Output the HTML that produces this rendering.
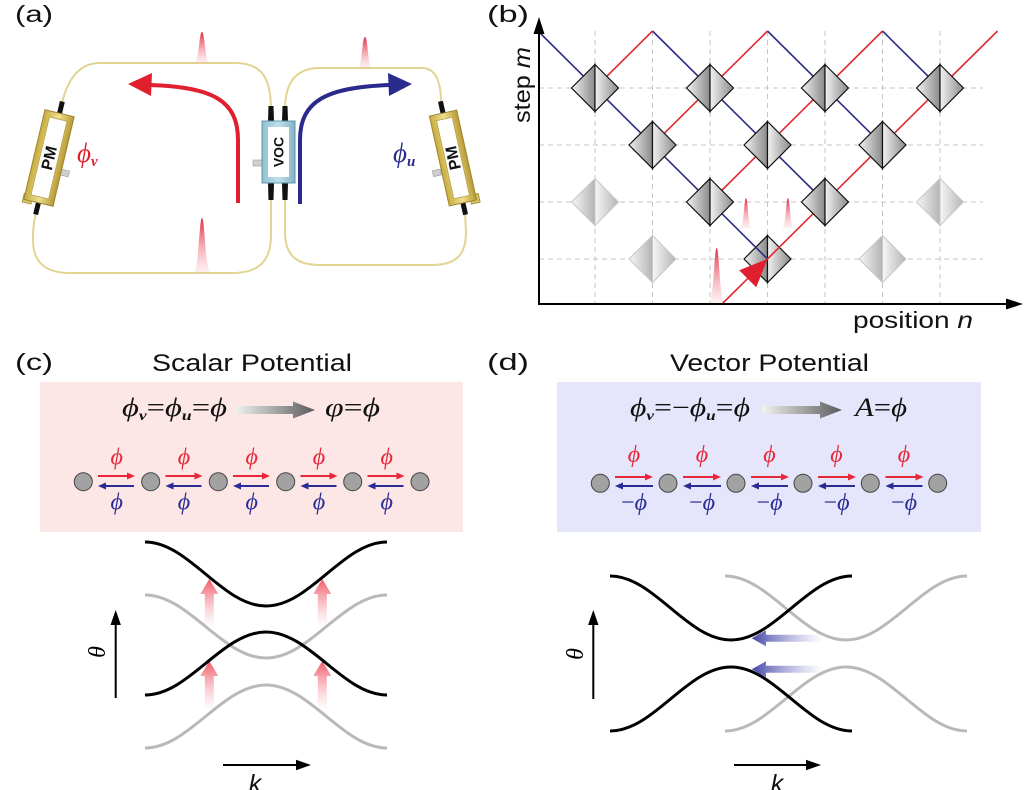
<!DOCTYPE html>
<html><head><meta charset="utf-8"><style>
html,body{margin:0;padding:0;background:#fff;}
svg{display:block;}
.lab{font-family:"Liberation Sans",Arial,sans-serif;fill:#111;}
.m{font-family:"Liberation Serif","DejaVu Serif",serif;font-style:italic;}
</style></head><body>
<svg width="1024" height="790" viewBox="0 0 1024 790" xmlns="http://www.w3.org/2000/svg">
<defs>
<linearGradient id="pg" x1="0" y1="0" x2="0" y2="1"><stop offset="0" stop-color="#e32c44"/><stop offset="1" stop-color="#f7a0aa" stop-opacity="0.15"/></linearGradient>
<linearGradient id="dg" x1="0" y1="0" x2="1" y2="0"><stop offset="0" stop-color="#f2f2f2"/><stop offset="1" stop-color="#8a8a8a"/></linearGradient>
<linearGradient id="fg" x1="0" y1="0" x2="1" y2="0"><stop offset="0" stop-color="#f7f7f7"/><stop offset="1" stop-color="#b4b4b4"/></linearGradient>
<linearGradient id="gold" x1="0" y1="0" x2="1" y2="0"><stop offset="0" stop-color="#c8ac40"/><stop offset="0.5" stop-color="#efe090"/><stop offset="1" stop-color="#b89a34"/></linearGradient>
<linearGradient id="voc" x1="0" y1="0" x2="1" y2="0"><stop offset="0" stop-color="#8fc0d0"/><stop offset="0.5" stop-color="#bfe0ea"/><stop offset="1" stop-color="#82b4c6"/></linearGradient>
<linearGradient id="ga" x1="0" y1="0" x2="1" y2="0"><stop offset="0" stop-color="#f2f2f2"/><stop offset="1" stop-color="#5a5a5a"/></linearGradient>
<linearGradient id="ru" x1="0" y1="0" x2="0" y2="1"><stop offset="0" stop-color="#ef5060" stop-opacity="0.95"/><stop offset="1" stop-color="#f7b0b8" stop-opacity="0"/></linearGradient>
<linearGradient id="bl" x1="0" y1="0" x2="1" y2="0"><stop offset="0" stop-color="#4545a8"/><stop offset="1" stop-color="#8a8ad0" stop-opacity="0"/></linearGradient>
</defs>

<!-- ========== (a) ========== -->
<text class="lab" x="15" y="22" font-size="23" textLength="38" lengthAdjust="spacingAndGlyphs">(a)</text>
<g fill="none" stroke="#e2d492" stroke-width="2">
<path d="M271,110 C271,78 262,63 235,63 L100,63 C80,63 68,78 62,103 L36,213 C33,226 33,232 33,240 C33,262 45,273 70,273 L232,273 C258,273 271,262 271,235 L271,198"/>
<path d="M285,110 C285,82 296,68 320,68 L422,68 C436,68 441,82 441,103 L465,213 L466,232 C466,255 456,265 432,265 L320,265 C296,265 285,255 285,232 L285,198"/>
</g>
<path d="M194,63 C199,63 199,32 202,32 C205,32 205,63 210,63 Z" fill="url(#pg)"/>
<path d="M193,273 C199,273 199,218 202,218 C205,218 205,273 211,273 Z" fill="url(#pg)"/>
<path d="M358,68 C362,68 362,37 365,37 C368,37 368,68 372,68 Z" fill="url(#pg)"/>
<g transform="translate(49,158) rotate(13.3)">
<rect x="-2.5" y="-58" width="5" height="14" fill="#111"/>
<rect x="-2.5" y="44" width="5" height="14" fill="#111"/>
<rect x="-16" y="40" width="9" height="9" fill="#d8c268" stroke="#a08a30" stroke-width="0.8"/>
<rect x="15" y="8" width="8" height="6" fill="#cfcfcf" stroke="#999" stroke-width="0.6"/>
<rect x="-15" y="-46" width="30" height="92" fill="url(#gold)" stroke="#9c8530" stroke-width="1"/>
<rect x="-9" y="-40" width="18" height="80" fill="#fff" stroke="#b9a44c" stroke-width="0.8"/>
<text transform="rotate(-90)" x="0" y="5.5" text-anchor="middle" class="lab" font-weight="bold" font-size="16">PM</text>
</g>
<g transform="translate(453,158) rotate(-12.5)">
<rect x="-2.5" y="-58" width="5" height="14" fill="#111"/>
<rect x="-2.5" y="44" width="5" height="14" fill="#111"/>
<rect x="8" y="40" width="9" height="9" fill="#d8c268" stroke="#a08a30" stroke-width="0.8"/>
<rect x="-23" y="8" width="8" height="6" fill="#cfcfcf" stroke="#999" stroke-width="0.6"/>
<rect x="-14" y="-46" width="28" height="92" fill="url(#gold)" stroke="#9c8530" stroke-width="1"/>
<rect x="-8" y="-40" width="16" height="80" fill="#fff" stroke="#b9a44c" stroke-width="0.8"/>
<text transform="rotate(-90)" x="0" y="5.5" text-anchor="middle" class="lab" font-weight="bold" font-size="16">PM</text>
</g>
<path d="M268.5,106 L273.5,106 L274,121 L268,121 Z M282.5,106 L287.5,106 L288,121 L282,121 Z" fill="#111"/>
<path d="M268,183 L274,183 L273.5,200 L268.5,200 Z M282,183 L288,183 L287.5,200 L282.5,200 Z" fill="#111"/>
<rect x="253" y="160" width="10" height="6" fill="#cfcfcf" stroke="#999" stroke-width="0.6"/>
<rect x="262" y="121" width="33" height="62" fill="url(#voc)" stroke="#5f95a8" stroke-width="1"/>
<rect x="268" y="127" width="21" height="50" fill="#fff"/>
<text transform="translate(283.5,152) rotate(-90)" x="0" y="0" text-anchor="middle" class="lab" font-weight="bold" font-size="14">VOC</text>
<path d="M238,203 L238,140 C238,100 212,87 150,85" fill="none" stroke="#e0202e" stroke-width="4"/>
<polygon points="128,84 152,73 151,96" fill="#e0202e"/>
<path d="M300,204 L300,140 C300,100 328,87 390,85" fill="none" stroke="#2a2a8c" stroke-width="4"/>
<polygon points="412,84 388,73 389,96" fill="#2a2a8c"/>
<text class="m" x="77" y="162" font-size="27" fill="#e0202e">ϕ<tspan font-size="15" font-weight="bold" dy="4">v</tspan></text>
<text class="m" x="393" y="162" font-size="27" fill="#2a2a8c">ϕ<tspan font-size="15" font-weight="bold" dy="4">u</tspan></text>

<!-- ========== (b) ========== -->
<text class="lab" x="487" y="22" font-size="23" textLength="42" lengthAdjust="spacingAndGlyphs">(b)</text>
<g stroke="#c4c4c4" stroke-width="1" stroke-dasharray="5,4">
<line x1="595" y1="31" x2="595" y2="304"/><line x1="652.5" y1="31" x2="652.5" y2="304"/>
<line x1="710" y1="31" x2="710" y2="304"/><line x1="767.5" y1="31" x2="767.5" y2="304"/>
<line x1="825" y1="31" x2="825" y2="304"/><line x1="882.5" y1="31" x2="882.5" y2="304"/>
<line x1="940" y1="31" x2="940" y2="304"/>
<line x1="539" y1="88" x2="983" y2="88"/><line x1="539" y1="145" x2="983" y2="145"/>
<line x1="539" y1="202" x2="983" y2="202"/><line x1="539" y1="259" x2="983" y2="259"/>
</g>
<g stroke="#c8c8c8" stroke-width="1">
<polygon points="571.5,202 595,178.5 595,225.5" fill="url(#fg)"/><polygon points="595,178.5 618.5,202 595,225.5" fill="url(#fg)"/>
<polygon points="916.5,202 940,178.5 940,225.5" fill="url(#fg)"/><polygon points="940,178.5 963.5,202 940,225.5" fill="url(#fg)"/>
<polygon points="629,259 652.5,235.5 652.5,282.5" fill="url(#fg)"/><polygon points="652.5,235.5 676,259 652.5,282.5" fill="url(#fg)"/>
<polygon points="859,259 882.5,235.5 882.5,282.5" fill="url(#fg)"/><polygon points="882.5,235.5 906,259 882.5,282.5" fill="url(#fg)"/>
</g>
<g stroke="#111" stroke-width="1.2">
<polygon points="744,259 767.5,235.5 767.5,282.5" fill="url(#dg)"/><polygon points="767.5,235.5 791,259 767.5,282.5" fill="url(#dg)"/>
</g>
<path d="M708.5,303 C714,303 714,248 716.7,248 C719.4,248 719.4,303 725,303 Z" fill="url(#pg)"/>
<path d="M740,228 C744,228 744,198 746,198 C748,198 748,228 752,228 Z" fill="url(#pg)"/>
<path d="M782,228 C786,228 786,198 788,198 C790,198 790,228 794,228 Z" fill="url(#pg)"/>
<g fill="none" stroke-width="1.6">
<path d="M539,32 L767.5,259" stroke="#2e2e88"/>
<path d="M652.5,31 L825,202" stroke="#2e2e88"/>
<path d="M767.5,31 L882.5,145" stroke="#2e2e88"/>
<path d="M882.5,31 L940,88" stroke="#2e2e88"/>
<path d="M722,304 L997.5,31" stroke="#e02a30"/>
<path d="M710,202 L882.5,31" stroke="#e02a30"/>
<path d="M652.5,145 L767.5,31" stroke="#e02a30"/>
<path d="M595,88 L652.5,31" stroke="#e02a30"/>
</g>
<polygon points="767.5,259 739.2,270.3 756.2,287.3" fill="#e0202e"/>
<g stroke="#111" stroke-width="1.2">
<polygon points="571.5,88 595,64.5 595,111.5" fill="url(#dg)"/><polygon points="595,64.5 618.5,88 595,111.5" fill="url(#dg)"/>
<polygon points="686.5,88 710,64.5 710,111.5" fill="url(#dg)"/><polygon points="710,64.5 733.5,88 710,111.5" fill="url(#dg)"/>
<polygon points="801.5,88 825,64.5 825,111.5" fill="url(#dg)"/><polygon points="825,64.5 848.5,88 825,111.5" fill="url(#dg)"/>
<polygon points="916.5,88 940,64.5 940,111.5" fill="url(#dg)"/><polygon points="940,64.5 963.5,88 940,111.5" fill="url(#dg)"/>
<polygon points="629,145 652.5,121.5 652.5,168.5" fill="url(#dg)"/><polygon points="652.5,121.5 676,145 652.5,168.5" fill="url(#dg)"/>
<polygon points="744,145 767.5,121.5 767.5,168.5" fill="url(#dg)"/><polygon points="767.5,121.5 791,145 767.5,168.5" fill="url(#dg)"/>
<polygon points="859,145 882.5,121.5 882.5,168.5" fill="url(#dg)"/><polygon points="882.5,121.5 906,145 882.5,168.5" fill="url(#dg)"/>
<polygon points="686.5,202 710,178.5 710,225.5" fill="url(#dg)"/><polygon points="710,178.5 733.5,202 710,225.5" fill="url(#dg)"/>
<polygon points="801.5,202 825,178.5 825,225.5" fill="url(#dg)"/><polygon points="825,178.5 848.5,202 825,225.5" fill="url(#dg)"/>
</g>
<g stroke="#000" stroke-width="2" fill="none"><path d="M539,304 L539,30"/><path d="M538,304 L1010,304"/></g>
<polygon points="539,17 533.5,34 544.5,34" fill="#000"/>
<polygon points="1023,304 1006,298.5 1006,309.5" fill="#000"/>
<text class="lab" transform="translate(530,123) rotate(-90)" x="0" y="0" font-size="23" textLength="76" lengthAdjust="spacingAndGlyphs">step <tspan font-style="italic">m</tspan></text>
<text class="lab" x="853" y="328" font-size="23" textLength="120" lengthAdjust="spacingAndGlyphs">position <tspan font-style="italic">n</tspan></text>

<!-- ========== (c) ========== -->
<text class="lab" x="15" y="370" font-size="23" textLength="38" lengthAdjust="spacingAndGlyphs">(c)</text>
<text class="lab" x="152" y="371" font-size="24" textLength="200" lengthAdjust="spacingAndGlyphs">Scalar Potential</text>
<rect x="40" y="382" width="423" height="150" fill="#fde6e6"/>
<text class="m" x="122" y="416" font-size="26" fill="#111" textLength="105" lengthAdjust="spacingAndGlyphs">ϕ<tspan font-size="14" font-weight="bold" dy="4">v</tspan><tspan dy="-4" font-style="normal">=</tspan>ϕ<tspan font-size="14" font-weight="bold" dy="4">u</tspan><tspan dy="-4" font-style="normal">=</tspan>ϕ</text>
<path d="M235,406 L293,406 L293,401.5 L315,410 L293,418.5 L293,414 L235,414 Z" fill="url(#ga)"/>
<text class="m" x="325" y="416" font-size="26" fill="#111" textLength="55" lengthAdjust="spacingAndGlyphs">φ<tspan font-style="normal">=</tspan>ϕ</text>
<g fill="#a2a2a2" stroke="#444" stroke-width="1">
<circle cx="83.3" cy="481.7" r="9"/><circle cx="150.7" cy="481.7" r="9"/><circle cx="218.3" cy="481.7" r="9"/>
<circle cx="285.7" cy="481.7" r="9"/><circle cx="352.7" cy="481.7" r="9"/><circle cx="420" cy="481.7" r="9"/>
</g>
<g stroke-width="2">
<line x1="98" y1="476" x2="128" y2="476" stroke="#e8283a"/><line x1="165.5" y1="476" x2="195.5" y2="476" stroke="#e8283a"/>
<line x1="233" y1="476" x2="263" y2="476" stroke="#e8283a"/><line x1="300.5" y1="476" x2="330.5" y2="476" stroke="#e8283a"/>
<line x1="367.5" y1="476" x2="397.5" y2="476" stroke="#e8283a"/>
<line x1="104" y1="486" x2="134" y2="486" stroke="#2b2b96"/><line x1="171.5" y1="486" x2="201.5" y2="486" stroke="#2b2b96"/>
<line x1="239" y1="486" x2="269" y2="486" stroke="#2b2b96"/><line x1="306.5" y1="486" x2="336.5" y2="486" stroke="#2b2b96"/>
<line x1="373.5" y1="486" x2="403.5" y2="486" stroke="#2b2b96"/>
</g>
<g fill="#e8283a">
<polygon points="135,476 127,472.5 127,479.5"/><polygon points="202.5,476 194.5,472.5 194.5,479.5"/>
<polygon points="270,476 262,472.5 262,479.5"/><polygon points="337.5,476 329.5,472.5 329.5,479.5"/>
<polygon points="404.5,476 396.5,472.5 396.5,479.5"/>
</g>
<g fill="#2b2b96">
<polygon points="98,486 106,482.5 106,489.5"/><polygon points="165.5,486 173.5,482.5 173.5,489.5"/>
<polygon points="233,486 241,482.5 241,489.5"/><polygon points="300.5,486 308.5,482.5 308.5,489.5"/>
<polygon points="367.5,486 375.5,482.5 375.5,489.5"/>
</g>
<g class="m" font-size="24" text-anchor="middle">
<text x="116.7" y="464.5" fill="#e8283a">ϕ</text><text x="184" y="464.5" fill="#e8283a">ϕ</text><text x="251.7" y="464.5" fill="#e8283a">ϕ</text><text x="319" y="464.5" fill="#e8283a">ϕ</text><text x="386.7" y="464.5" fill="#e8283a">ϕ</text>
<text x="116.7" y="509.5" fill="#2b2b96">ϕ</text><text x="184" y="509.5" fill="#2b2b96">ϕ</text><text x="251.7" y="509.5" fill="#2b2b96">ϕ</text><text x="319" y="509.5" fill="#2b2b96">ϕ</text><text x="386.7" y="509.5" fill="#2b2b96">ϕ</text>
</g>
<g fill="url(#ru)">
<polygon points="209.3,579 218.3,594 213.8,594 213.8,628 204.8,628 204.8,594 200.3,594"/>
<polygon points="322.3,579 331.3,594 326.8,594 326.8,628 317.8,628 317.8,594 313.3,594"/>
<polygon points="209.3,661 218.3,676 213.8,676 213.8,711 204.8,711 204.8,676 200.3,676"/>
<polygon points="322.3,661 331.3,676 326.8,676 326.8,711 317.8,711 317.8,676 313.3,676"/>
</g>
<g fill="none" stroke-width="3">
<path d="M145,595 C189,595 222,658 266,658 C310,658 343,595 387,595" stroke="#b9b9b9"/>
<path d="M145,748 C189,748 222,685 266,685 C310,685 343,748 387,748" stroke="#b9b9b9"/>
<path d="M145,542 C189,542 222,606 266,606 C310,606 343,542 387,542" stroke="#000"/>
<path d="M145,695 C189,695 222,632 266,632 C310,632 343,695 387,695" stroke="#000"/>
</g>
<line x1="115.7" y1="698" x2="115.7" y2="622" stroke="#000" stroke-width="2"/>
<polygon points="115.7,610 110.5,625 120.9,625" fill="#000"/>
<line x1="223" y1="765" x2="298" y2="765" stroke="#000" stroke-width="2"/>
<polygon points="311,765 296,759.8 296,770.2" fill="#000"/>
<text class="m" transform="translate(105,652) rotate(-90)" x="0" y="0" font-size="24" text-anchor="middle" fill="#000">θ</text>
<text class="lab" x="255" y="792" font-size="25" font-style="italic" text-anchor="middle">k</text>

<!-- ========== (d) ========== -->
<text class="lab" x="487" y="370" font-size="23" textLength="42" lengthAdjust="spacingAndGlyphs">(d)</text>
<text class="lab" x="670" y="371" font-size="24" textLength="199" lengthAdjust="spacingAndGlyphs">Vector Potential</text>
<rect x="557" y="382" width="424" height="150" fill="#e5e5fb"/>
<text class="m" x="630" y="416" font-size="26" fill="#111" textLength="120" lengthAdjust="spacingAndGlyphs">ϕ<tspan font-size="14" font-weight="bold" dy="4">v</tspan><tspan dy="-4" font-style="normal">=−</tspan>ϕ<tspan font-size="14" font-weight="bold" dy="4">u</tspan><tspan dy="-4" font-style="normal">=</tspan>ϕ</text>
<path d="M762,406 L820,406 L820,401.5 L842,410 L820,418.5 L820,414 L762,414 Z" fill="url(#ga)"/>
<text class="m" x="855" y="416" font-size="26" fill="#111" textLength="52" lengthAdjust="spacingAndGlyphs">A<tspan font-style="normal">=</tspan>ϕ</text>
<g fill="#a2a2a2" stroke="#444" stroke-width="1">
<circle cx="600.3" cy="483.3" r="9"/><circle cx="668" cy="483.3" r="9"/><circle cx="736" cy="483.3" r="9"/>
<circle cx="803" cy="483.3" r="9"/><circle cx="870.3" cy="483.3" r="9"/><circle cx="937.7" cy="483.3" r="9"/>
</g>
<g stroke-width="2">
<line x1="615" y1="477" x2="645" y2="477" stroke="#e8283a"/><line x1="683" y1="477" x2="713" y2="477" stroke="#e8283a"/>
<line x1="751" y1="477" x2="781" y2="477" stroke="#e8283a"/><line x1="818" y1="477" x2="848" y2="477" stroke="#e8283a"/>
<line x1="885.5" y1="477" x2="915.5" y2="477" stroke="#e8283a"/>
<line x1="621" y1="486" x2="653" y2="486" stroke="#2b2b96"/><line x1="689" y1="486" x2="721" y2="486" stroke="#2b2b96"/>
<line x1="757" y1="486" x2="788" y2="486" stroke="#2b2b96"/><line x1="824" y1="486" x2="855" y2="486" stroke="#2b2b96"/>
<line x1="891.5" y1="486" x2="922.5" y2="486" stroke="#2b2b96"/>
</g>
<g fill="#e8283a">
<polygon points="653,477 645,473.5 645,480.5"/><polygon points="721,477 713,473.5 713,480.5"/>
<polygon points="789,477 781,473.5 781,480.5"/><polygon points="856,477 848,473.5 848,480.5"/>
<polygon points="923.5,477 915.5,473.5 915.5,480.5"/>
</g>
<g fill="#2b2b96">
<polygon points="615,486 623,482.5 623,489.5"/><polygon points="683,486 691,482.5 691,489.5"/>
<polygon points="751,486 759,482.5 759,489.5"/><polygon points="818,486 826,482.5 826,489.5"/>
<polygon points="885.5,486 893.5,482.5 893.5,489.5"/>
</g>
<g class="m" font-size="24" text-anchor="middle">
<text x="634" y="462" fill="#e8283a">ϕ</text><text x="702" y="462" fill="#e8283a">ϕ</text><text x="769.5" y="462" fill="#e8283a">ϕ</text><text x="836.5" y="462" fill="#e8283a">ϕ</text><text x="904" y="462" fill="#e8283a">ϕ</text>
<text x="634" y="510" fill="#2b2b96"><tspan font-style="normal">−</tspan>ϕ</text><text x="702" y="510" fill="#2b2b96"><tspan font-style="normal">−</tspan>ϕ</text><text x="769.5" y="510" fill="#2b2b96"><tspan font-style="normal">−</tspan>ϕ</text><text x="836.5" y="510" fill="#2b2b96"><tspan font-style="normal">−</tspan>ϕ</text><text x="904" y="510" fill="#2b2b96"><tspan font-style="normal">−</tspan>ϕ</text>
</g>
<g fill="none" stroke-width="3">
<path d="M725,576 C769,576 802,640 846,640 C890,640 923,576 967,576" stroke="#b9b9b9"/>
<path d="M725,731 C769,731 802,667 846,667 C890,667 923,731 967,731" stroke="#b9b9b9"/>
<path d="M610,576 C654,576 687,640 731,640 C775,640 808,576 852,576" stroke="#000"/>
<path d="M610,731 C654,731 687,667 731,667 C775,667 808,731 852,731" stroke="#000"/>
</g>
<g fill="url(#bl)">
<polygon points="751.7,638.3 766,630.3 766,634.8 823,634.8 823,641.8 766,641.8 766,646.3"/>
<polygon points="751.7,669.3 766,661.3 766,665.8 823,665.8 823,672.8 766,672.8 766,677.3"/>
</g>
<line x1="593.3" y1="699" x2="593.3" y2="622" stroke="#000" stroke-width="2"/>
<polygon points="593.3,610 588.1,625 598.5,625" fill="#000"/>
<line x1="734" y1="765" x2="808" y2="765" stroke="#000" stroke-width="2"/>
<polygon points="821,765 806,759.8 806,770.2" fill="#000"/>
<text class="m" transform="translate(583,654) rotate(-90)" x="0" y="0" font-size="24" text-anchor="middle" fill="#000">θ</text>
<text class="lab" x="777" y="792" font-size="25" font-style="italic" text-anchor="middle">k</text>
</svg>
</body></html>
